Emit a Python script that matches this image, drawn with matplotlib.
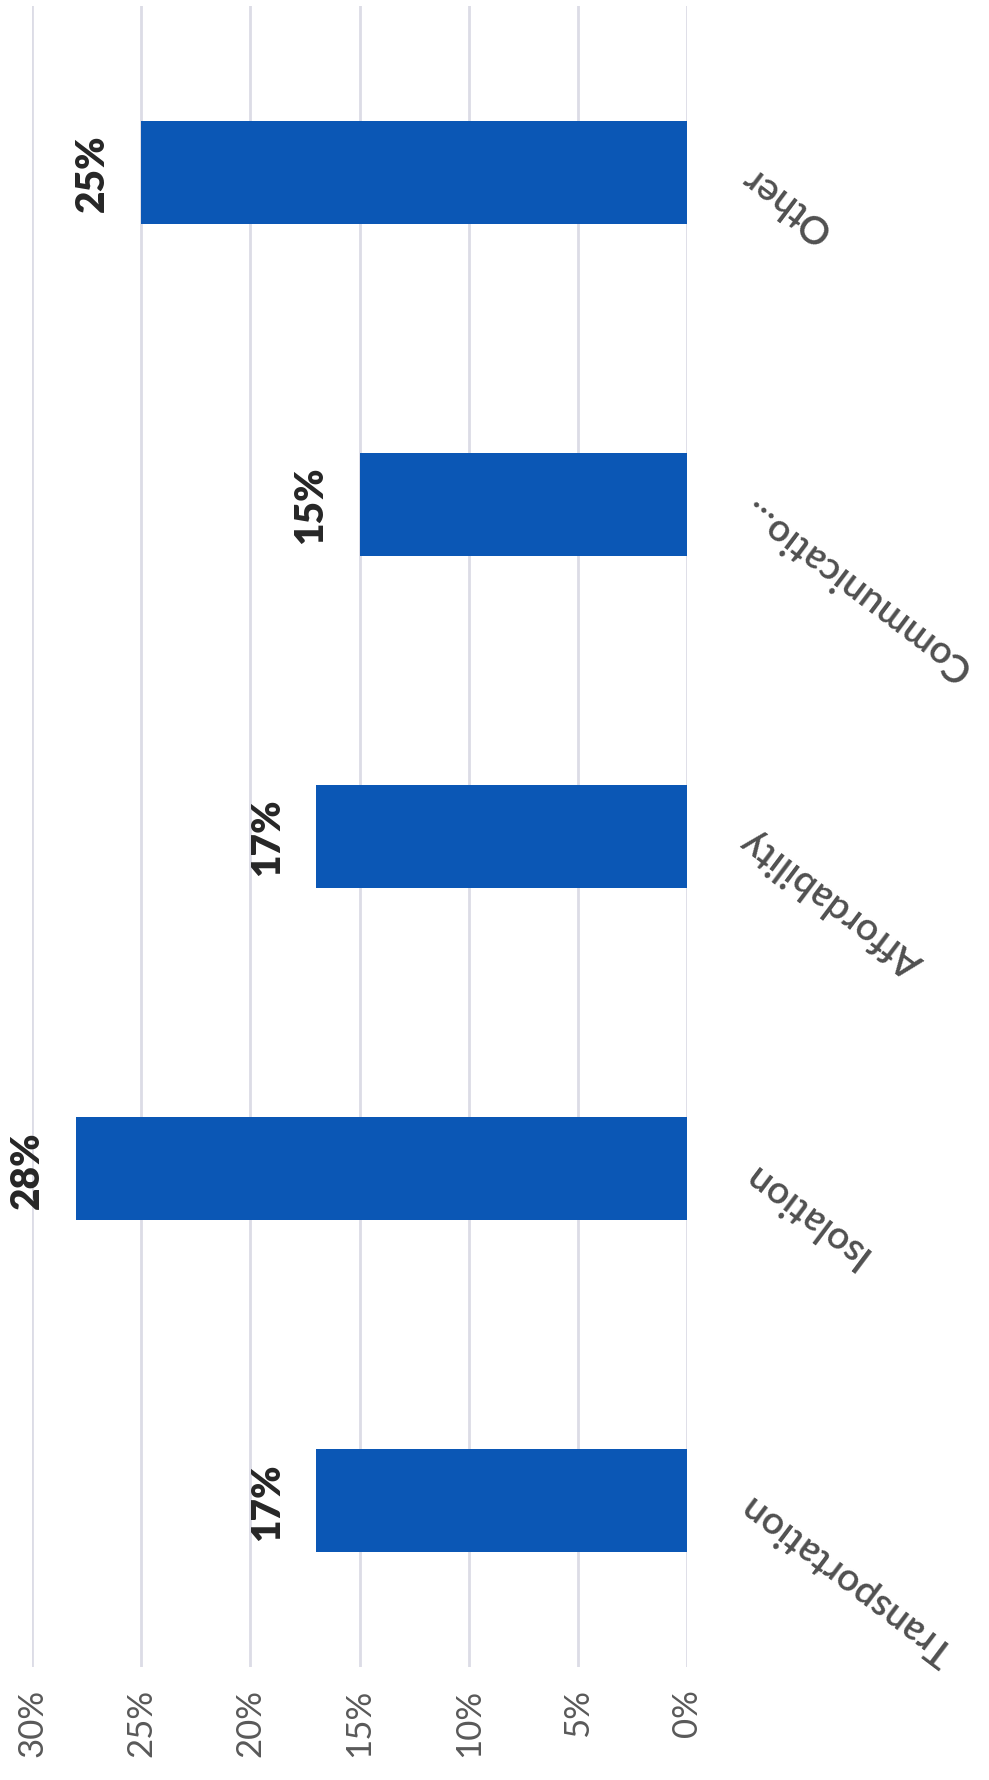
import numpy as np
import matplotlib
matplotlib.use("Agg")
import matplotlib.pyplot as plt

plt.rcParams['font.family'] = ['Lato', 'DejaVu Sans']

categories = ["Transportation", "Isolation", "Affordability", "Communicatio...", "Other"]
values = [17, 28, 17, 15, 25]
ticks = [0, 5, 10, 15, 20, 25, 30]
tick_labels = ["0%", "5%", "10%", "15%", "20%", "25%", "30%"]

fig = plt.figure(figsize=(9.89, 17.81), dpi=100)
ax = fig.add_axes([0.0324, 0.0634, 0.6623, 0.9326])

pos = np.arange(len(categories))
ax.barh(pos, values, height=0.31, color="#0B57B5", zorder=3)

ax.set_xlim(30, 0)
ax.set_ylim(-0.5, 4.5)
ax.set_xticks(ticks)
ax.set_xticklabels(tick_labels, rotation=90, color="#595959", fontsize=25)
ax.tick_params(axis="x", length=0, pad=15)
ax.set_yticks([])
ax.grid(axis="x", color="#DCDCE6", linewidth=2, zorder=0)
for s in ax.spines.values():
    s.set_visible(False)

for i, v in enumerate(values):
    ax.annotate(f"{v}%", xy=(v, i), xytext=(-35, 0), textcoords="offset points",
                rotation=90, ha="center", va="center", fontsize=28,
                fontweight="heavy", color="#262626")
    ax.annotate(categories[i], xy=(0, i), xytext=(42, 0), textcoords="offset points",
                rotation=143, rotation_mode="anchor", ha="right", va="center",
                fontsize=28, fontweight="semibold", color="#505050",
                annotation_clip=False)

fig.savefig("out.png", dpi=100)
